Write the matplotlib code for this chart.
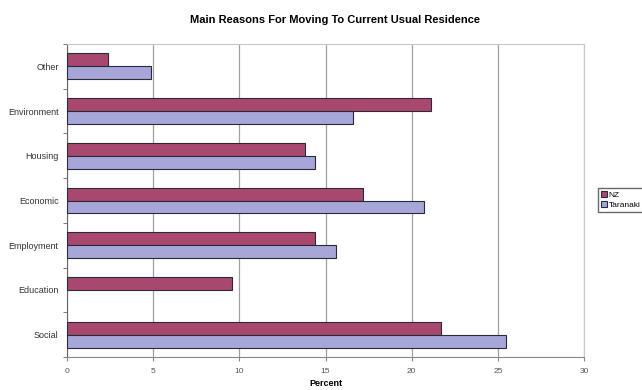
import matplotlib
matplotlib.use("Agg")
import matplotlib.pyplot as plt
import numpy as np

plt.rcParams["font.family"] = ["Liberation Sans", "DejaVu Sans"]

# reasons, listed bottom to top as they appear on the axis
reasons = ["Social", "Education", "Employment", "Economic", "Housing", "Environment", "Other"]
nz = [21.7, 9.6, 14.4, 17.2, 13.8, 21.1, 2.4]
taranaki = [25.5, 0.0, 15.6, 20.7, 14.4, 16.6, 4.9]
x_ticks = [0, 5, 10, 15, 20, 25, 30]

NZ_COLOR = "#a8486f"
TAR_COLOR = "#a6a6d8"
EDGE = "#2a2a3a"

fig = plt.figure(figsize=(6.42, 3.90), dpi=100)
ax = fig.add_axes([67 / 642, 33 / 390, 517 / 642, 313 / 390])

y = np.arange(len(reasons))
h = 0.29
# zero-length bars get no outline so nothing shows at the axis
ax.barh(y + h / 2, nz, height=h, color=NZ_COLOR, edgecolor=EDGE,
        lw=[0 if v == 0 else 0.8 for v in nz], label="NZ", zorder=3)
ax.barh(y - h / 2, taranaki, height=h, color=TAR_COLOR, edgecolor=EDGE,
        lw=[0 if v == 0 else 0.8 for v in taranaki], label="Taranaki", zorder=3)

ax.set_xlim(0, 30)
ax.set_ylim(-0.5, len(reasons) - 0.5)
ax.set_xticks(x_ticks)
ax.set_xticklabels([str(t) for t in x_ticks], fontsize=6, color="#555555")
ax.set_yticks(y)
ax.set_yticklabels(reasons, fontsize=6.5, color="#333333")
ax.set_yticks(np.arange(-0.5, len(reasons)), minor=True)
ax.tick_params(axis="y", which="major", length=0, pad=6)
ax.tick_params(axis="y", which="minor", length=3, color="#666666", direction="out")
ax.tick_params(axis="x", length=3, color="#888888", pad=5)

ax.grid(axis="x", color="#a0a0a0", lw=0.9, zorder=0)
for side in ("top", "right"):
    ax.spines[side].set_color("#c8c8c8")
    ax.spines[side].set_linewidth(0.8)
ax.spines["left"].set_color("#666666")
ax.spines["bottom"].set_color("#888888")

ax.set_xlabel("Percent", fontsize=6.5, fontweight="bold", labelpad=3)
fig.text(335 / 642, 1 - 20 / 390, "Main Reasons For Moving To Current Usual Residence",
         ha="center", va="center", fontsize=8, fontweight="bold")

fig.legend(loc="upper left", bbox_to_anchor=(598 / 642, 1 - 188 / 390), fontsize=6,
           frameon=True, fancybox=False, edgecolor="#444444", borderpad=0.3,
           handlelength=0.8, handleheight=0.8, handletextpad=0.2, labelspacing=0.3,
           borderaxespad=0)

fig.savefig("out.png", dpi=100)
